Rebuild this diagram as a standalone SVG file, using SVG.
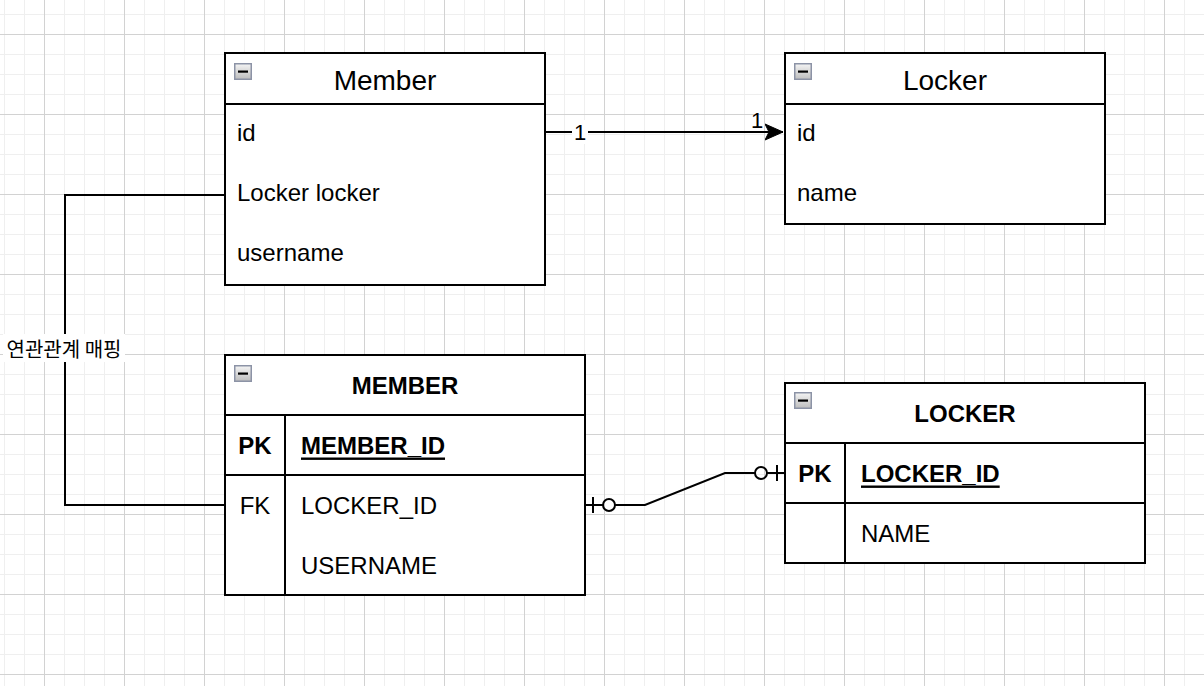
<svg xmlns="http://www.w3.org/2000/svg" width="1204" height="686" viewBox="0 0 1204 686">
<style>
.box{fill:#fff;stroke:#000;stroke-width:2}
.ln{fill:none;stroke:#000;stroke-width:2}
.t{font-family:"Liberation Sans",Arial,sans-serif;fill:#000;dominant-baseline:central}
.title{font-size:28px;text-anchor:middle}
.row{font-size:24px}
.etitle{font-size:24px;font-weight:bold;text-anchor:middle}
.b{font-weight:bold}
.u{text-decoration:underline}
.mid{text-anchor:middle}
.lbl{font-size:22px}
.kr{font-family:"Noto Sans CJK KR","Noto Sans",sans-serif;font-size:20px;fill:#000;text-anchor:middle;dominant-baseline:central}
</style>
<defs>
<pattern id="minor" patternUnits="userSpaceOnUse" x="4" y="14" width="20" height="20">
<path d="M0.5 0V20M0 0.5H20" stroke="#efefef" stroke-width="1" fill="none"/>
</pattern>
<pattern id="major" patternUnits="userSpaceOnUse" x="44" y="34" width="80" height="80">
<path d="M0.5 0V80M0 0.5H80" stroke="#d2d2d2" stroke-width="1" fill="none"/>
</pattern>
<linearGradient id="ig" x1="0" y1="0" x2="0" y2="1">
<stop offset="0" stop-color="#f4f4f4"/>
<stop offset="1" stop-color="#bdbdbd"/>
</linearGradient>
<symbol id="icon" viewBox="0 0 18 17" width="18" height="17" overflow="visible">
<rect x="0.75" y="0.75" width="16.5" height="15.5" fill="url(#ig)" stroke="#8c93a6" stroke-width="1.5"/>
<rect x="4" y="7.5" width="10" height="2.2" fill="#000"/>
</symbol>
<marker id="arr" markerUnits="userSpaceOnUse" viewBox="0 0 20 18" refX="18" refY="9" markerWidth="20" markerHeight="18" orient="auto">
<path d="M0 1L18 9L0 17L4 9Z" fill="#000" stroke="#000" stroke-width="1"/>
</marker>
</defs>
<rect width="1204" height="686" fill="#fff"/>
<rect width="1204" height="686" fill="url(#minor)"/>
<rect width="1204" height="686" fill="url(#major)"/>

<g id="connectors">
<path class="ln" d="M545 132H783" marker-end="url(#arr)"/>
<rect x="572" y="120" width="16" height="24" fill="#fff"/>
<text class="t lbl mid" x="580" y="132">1</text>
<text class="t lbl mid" x="757" y="120">1</text>
<path class="ln" d="M225 195H65V505H225"/>
<rect x="3" y="334" width="122" height="28" fill="#fff"/>
<text class="kr" x="64" y="348">연관관계 매핑</text>
<path class="ln" d="M585 505H603M615 505H645L725 473H755M767 473H785"/>
<path class="ln" d="M593 497V513M777 465V481"/>
<circle class="ln" cx="609" cy="505" r="6"/>
<circle class="ln" cx="761" cy="473" r="6"/>
</g>

<g id="member">
<rect class="box" x="225" y="53" width="320" height="232"/>
<path class="ln" d="M225 104H545"/>
<use href="#icon" x="234" y="63"/>
<text class="t title" x="385" y="80">Member</text>
<text class="t row" x="237" y="132">id</text>
<text class="t row" x="237" y="192">Locker locker</text>
<text class="t row" x="237" y="252">username</text>
</g>

<g id="locker">
<rect class="box" x="785" y="53" width="320" height="171"/>
<path class="ln" d="M785 104H1105"/>
<use href="#icon" x="794" y="63"/>
<text class="t title" x="945" y="80">Locker</text>
<text class="t row" x="797" y="132">id</text>
<text class="t row" x="797" y="192">name</text>
</g>

<g id="MEMBER">
<rect class="box" x="225" y="355" width="360" height="240"/>
<path class="ln" d="M225 415H585M225 475H585M285 415V595"/>
<use href="#icon" x="234" y="365"/>
<text class="t etitle" x="405" y="385">MEMBER</text>
<text class="t row b mid" x="255" y="445">PK</text>
<text class="t row b u" x="301" y="445">MEMBER_ID</text>
<text class="t row mid" x="255" y="505">FK</text>
<text class="t row" x="301" y="505">LOCKER_ID</text>
<text class="t row" x="301" y="565">USERNAME</text>
</g>

<g id="LOCKER">
<rect class="box" x="785" y="383" width="360" height="180"/>
<path class="ln" d="M785 443H1145M785 503H1145M845 443V563"/>
<use href="#icon" x="794" y="392"/>
<text class="t etitle" x="965" y="413">LOCKER</text>
<text class="t row b mid" x="815" y="473">PK</text>
<text class="t row b u" x="861" y="473">LOCKER_ID</text>
<text class="t row" x="861" y="533">NAME</text>
</g>
</svg>
